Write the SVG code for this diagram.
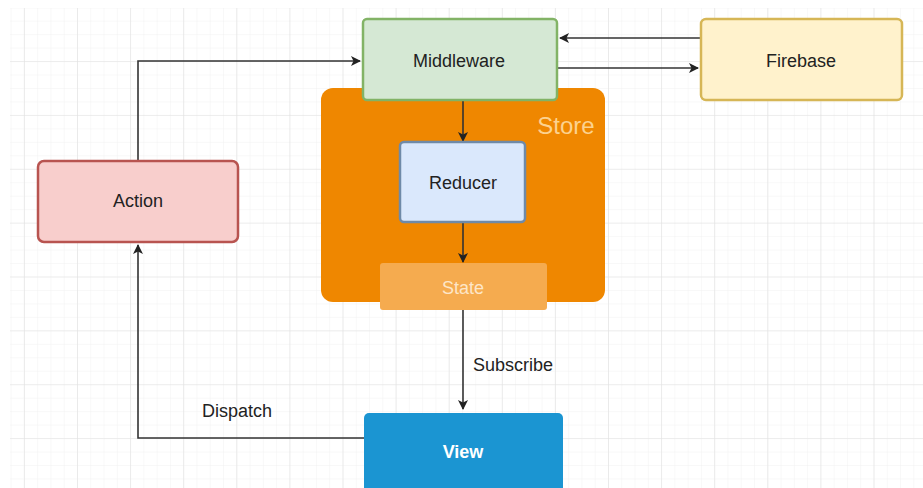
<svg xmlns="http://www.w3.org/2000/svg" width="923" height="488" viewBox="0 0 923 488">
  <defs>
    <pattern id="gridMinor" x="23.9" y="7.2" width="13.275" height="13.465" patternUnits="userSpaceOnUse">
      <path d="M0 0H13.275M0 0V13.465" fill="none" stroke="#f1f1f1" stroke-width="1"/>
    </pattern>
    <pattern id="gridMajor" x="23.9" y="7.2" width="53.1" height="53.86" patternUnits="userSpaceOnUse">
      <path d="M0 0H53.1M0 0V53.86" fill="none" stroke="#e1e1e1" stroke-width="1.2"/>
    </pattern>
    <marker id="arrow" viewBox="0 0 10 10" refX="9" refY="5" markerWidth="10" markerHeight="10" markerUnits="userSpaceOnUse" orient="auto">
      <path d="M0 0L10 5L0 10L2.5 5Z" fill="#222"/>
    </marker>
    <style>
      .lbl { font-family: "Liberation Sans", Arial, sans-serif; font-size: 18px; fill: #222; text-anchor: middle; dominant-baseline: central; }
      .conn { fill: none; stroke: #333; stroke-width: 1.6; }
      .box { stroke-width: 2.5; }
    </style>
  </defs>

  <!-- canvas background with grid -->
  <rect width="923" height="488" fill="#ffffff"/>
  <rect x="10" y="8" width="913" height="480" fill="url(#gridMinor)"/>
  <rect x="10" y="8" width="913" height="480" fill="url(#gridMajor)"/>

  <!-- store container -->
  <g id="store">
    <rect x="321" y="88" width="284" height="214" rx="12" fill="#ef8700"/>
    <text x="566" y="125" class="lbl" style="font-size:24px; fill:#fcd28f;">Store</text>
  </g>

  <!-- connectors -->
  <g id="connectors">
    <path class="conn" d="M138 160V61H360" marker-end="url(#arrow)"/>
    <path class="conn" d="M700 38H560" marker-end="url(#arrow)"/>
    <path class="conn" d="M557 68H698" marker-end="url(#arrow)"/>
    <path class="conn" d="M463 101V141" marker-end="url(#arrow)"/>
    <path class="conn" d="M463 223V262" marker-end="url(#arrow)"/>
    <path class="conn" d="M463 310V409" marker-end="url(#arrow)"/>
    <path class="conn" d="M364 438H138V245" marker-end="url(#arrow)"/>
    <text x="513" y="365" class="lbl">Subscribe</text>
    <text x="237" y="411" class="lbl">Dispatch</text>
  </g>

  <g id="middleware">
    <rect x="363" y="19" width="194" height="81" rx="4" class="box" fill="#d5e8d4" stroke="#82b366"/>
    <text x="459" y="61" class="lbl">Middleware</text>
  </g>

  <g id="firebase">
    <rect x="701" y="19" width="201" height="81" rx="5" class="box" fill="#fff2cc" stroke="#d6b656"/>
    <text x="801" y="61" class="lbl">Firebase</text>
  </g>

  <g id="reducer">
    <rect x="400" y="142" width="125" height="80" rx="4" class="box" fill="#dae8fc" stroke="#6f8aa8"/>
    <text x="463" y="183" class="lbl">Reducer</text>
  </g>

  <g id="state">
    <rect x="380" y="263" width="167" height="47" rx="3" fill="#f5ab4f"/>
    <text x="463" y="288" class="lbl" style="fill:#fde6c8;">State</text>
  </g>

  <g id="action">
    <rect x="38" y="161" width="200" height="81" rx="6" class="box" fill="#f8cecc" stroke="#b85450"/>
    <text x="138" y="201" class="lbl">Action</text>
  </g>

  <g id="view">
    <rect x="364" y="413" width="199" height="90" rx="5" fill="#1b95d2"/>
    <text x="463" y="452" class="lbl" style="fill:#ffffff; font-weight:bold;">View</text>
  </g>
</svg>
